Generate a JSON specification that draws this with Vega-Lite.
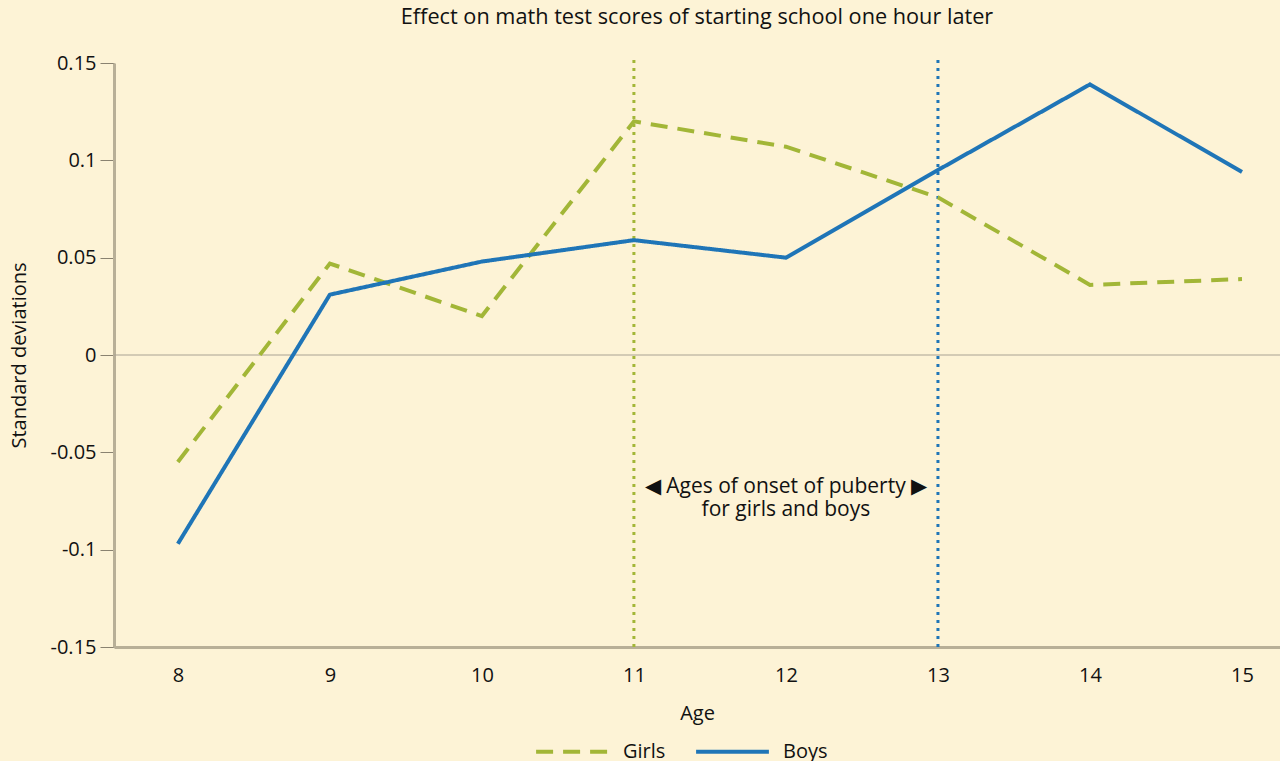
{
  "$schema": "https://vega.github.io/schema/vega-lite/v6.json",
  "width": 1166,
  "height": 584,
  "autosize": {"type": "none"},
  "padding": {"left": 114, "top": 63, "right": 0, "bottom": 114},
  "background": "#FDF3D6",
  "config": {
    "view": {"stroke": null},
    "font": "Open Sans",
    "axis": {"domainColor": "#B8AF97", "tickColor": "#8a8270", "labelColor": "#111", "titleColor": "#111", "labelFont": "Open Sans", "titleFont": "Open Sans", "grid": false}
  },
  "title": {"text": "Effect on math test scores of starting school one hour later", "fontSize": 21.7, "fontWeight": "normal", "color": "#111", "anchor": "middle", "offset": 24, "font": "Open Sans"},
  "datasets": {
    "scores": [
      {"age": 8, "series": "Girls", "value": -0.055},
      {"age": 9, "series": "Girls", "value": 0.047},
      {"age": 10, "series": "Girls", "value": 0.020},
      {"age": 11, "series": "Girls", "value": 0.120},
      {"age": 12, "series": "Girls", "value": 0.107},
      {"age": 13, "series": "Girls", "value": 0.081},
      {"age": 14, "series": "Girls", "value": 0.036},
      {"age": 15, "series": "Girls", "value": 0.039},
      {"age": 8, "series": "Boys", "value": -0.097},
      {"age": 9, "series": "Boys", "value": 0.031},
      {"age": 10, "series": "Boys", "value": 0.048},
      {"age": 11, "series": "Boys", "value": 0.059},
      {"age": 12, "series": "Boys", "value": 0.050},
      {"age": 13, "series": "Boys", "value": 0.095},
      {"age": 14, "series": "Boys", "value": 0.139},
      {"age": 15, "series": "Boys", "value": 0.094}
    ],
    "onset": [
      {"age": 11, "series": "Girls"},
      {"age": 13, "series": "Boys"}
    ],
    "note": [
      {"age": 12, "value": -0.068, "label": "◀ Ages of onset of puberty ▶\nfor girls and boys"}
    ],
    "zero": [{"value": 0}]
  },
  "layer": [
    {
      "data": {"name": "zero"},
      "mark": {"type": "rule", "color": "#A9A293", "strokeWidth": 1},
      "encoding": {"y": {"field": "value", "type": "quantitative", "scale": {"domain": [-0.15, 0.15]}}}
    },
    {
      "data": {"name": "onset"},
      "mark": {"type": "rule", "strokeWidth": 3, "strokeDash": [3, 5], "y": -3, "y2": 584},
      "encoding": {
        "x": {"field": "age", "type": "quantitative"},
        "color": {"field": "series", "type": "nominal", "scale": {"domain": ["Girls", "Boys"], "range": ["#A2B637", "#1F75B7"]}}
      }
    },
    {
      "data": {"name": "scores"},
      "mark": {"type": "line", "strokeWidth": 4},
      "encoding": {
        "x": {"field": "age", "type": "quantitative", "scale": {"domain": [7.58, 15.25], "nice": false, "zero": false},
          "axis": {"values": [8, 9, 10, 11, 12, 13, 14, 15], "format": "d", "ticks": false, "labelFontSize": 20, "labelPadding": 18, "title": "Age", "titleFontSize": 20, "titleFontWeight": "normal", "titlePadding": 18, "domainWidth": 3}},
        "y": {"field": "value", "type": "quantitative", "scale": {"domain": [-0.15, 0.15], "nice": false},
          "axis": {"values": [-0.15, -0.1, -0.05, 0, 0.05, 0.1, 0.15], "labelExpr": "replace(format(datum.value, ''), '−', '-')", "tickSize": 14, "tickWidth": 1, "labelFontSize": 20, "labelPadding": 4, "title": "Standard deviations", "titleFontSize": 20, "titleFontWeight": "normal", "titlePadding": 21, "domainWidth": 3}},
        "color": {"field": "series", "type": "nominal", "scale": {"domain": ["Girls", "Boys"], "range": ["#A2B637", "#1F75B7"]},
          "legend": {"title": null, "orient": "none", "legendX": 420, "legendY": 650, "direction": "horizontal", "symbolType": "M-1,0H1", "symbolSize": 5300, "symbolStrokeWidth": 4, "labelFontSize": 20, "labelColor": "#111", "labelOffset": 12, "columnPadding": 22}},
        "strokeDash": {"field": "series", "type": "nominal", "scale": {"domain": ["Girls", "Boys"], "range": [[17, 10], [1, 0]]},
          "legend": {"title": null, "orient": "none", "legendX": 420, "legendY": 650, "direction": "horizontal", "symbolType": "M-1,0H1", "symbolSize": 5300, "symbolStrokeWidth": 4, "labelFontSize": 20, "labelColor": "#111", "labelOffset": 12, "columnPadding": 22}}
      }
    },
    {
      "data": {"name": "note"},
      "mark": {"type": "text", "fontSize": 21, "color": "#111", "lineBreak": "\n", "lineHeight": 23, "align": "center", "baseline": "middle"},
      "encoding": {
        "x": {"field": "age", "type": "quantitative"},
        "y": {"field": "value", "type": "quantitative"},
        "text": {"field": "label"}
      }
    }
  ]
}
